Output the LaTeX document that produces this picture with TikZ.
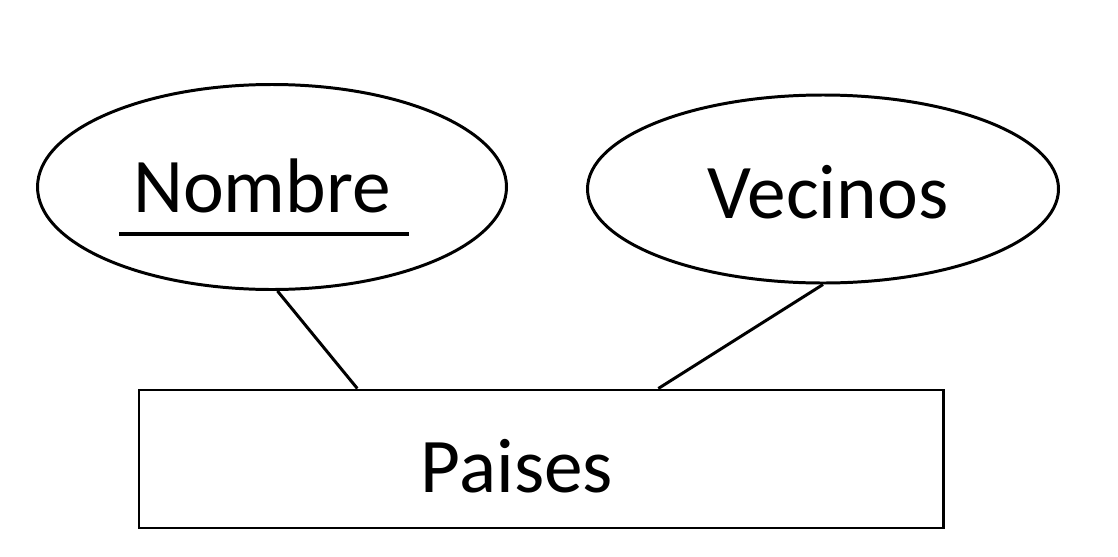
\documentclass[tikz,border=0pt]{standalone}
\usepackage{fontspec}
\setmainfont{Carlito}
\usetikzlibrary{shapes.geometric}
\tikzset{
    attr-oval/.style = {draw, ellipse, line width=1.7pt, inner sep=0pt},
    entity-box/.style = {draw, rectangle, line width=1.7pt, inner sep=0pt, minimum width=16.08cm, minimum height=2.76cm},
    er-text/.style = {anchor=base, inner sep=0pt, font=\fontsize{44}{50}\selectfont},
    er-link/.style = {line width=1.7pt},
}

\begin{document}
\begin{tikzpicture}
\useasboundingbox (0,0) rectangle (22.36,-11.14);
% attributes
\node [attr-oval, minimum width=9.38cm, minimum height=4.1cm] (nombre) at (5.44,-3.74) {};
\node [attr-oval, minimum width=9.42cm, minimum height=3.76cm] (vecinos) at (16.46,-3.78) {};
% entity
\node [entity-box] (paises) at (10.82,-9.18) {};
% texts
\node [er-text] (nombre-txt) at (5.24,-4.24) {Nombre};
\node [er-text] (vecinos-txt) at (16.56,-4.36) {Vecinos};
\node [er-text] (paises-txt) at (10.34,-9.84) {Paises};
% key underline
\draw [er-link, line width=2.3pt] ([xshift=-2.86cm,yshift=-0.44cm]nombre-txt.base) -- ([xshift=2.94cm,yshift=-0.44cm]nombre-txt.base);
% links
\draw [er-link] (nombre.273) -- (paises.159.4);
\draw [er-link] (vecinos.270) -- (paises.31);
\end{tikzpicture}
\end{document}
